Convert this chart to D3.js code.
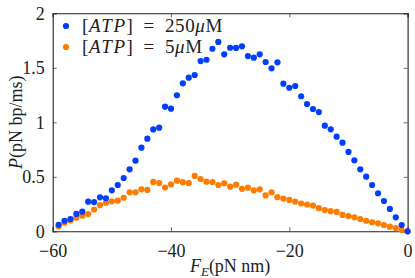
<!DOCTYPE html>
<html>
<head>
<meta charset="utf-8">
<script src="https://cdn.jsdelivr.net/npm/d3@7"></script>
<style>
  body { margin: 0; background: #fff; }
  text { font-family: "Liberation Serif", "DejaVu Serif", serif; fill: #222; }
</style>
</head>
<body>
<svg id="chart" width="415" height="278"></svg>
<script>
// F_E values (pN nm)
var forceE = [-59,-58,-57,-56,-55,-54,-53,-52,-51,-50,-49,-48,-47,-46,-45,-44,-43,-42,-41,-40,
              -39,-38,-37,-36,-35,-34,-33,-32,-31,-30,-29,-28,-27,-26,-25,-24,-23,-22,-21,-20,
              -19,-18,-17,-16,-15,-14,-13,-12,-11,-10,-9,-8,-7,-6,-5,-4,-3,-2,-1,0];

// P for [ATP] = 250uM
var power250 = [0.06,0.097,0.113,0.159,0.18,0.272,0.268,0.312,0.303,0.376,0.425,0.489,0.569,0.648,0.767,0.85,0.935,0.951,1.143,1.125,
                1.248,1.358,1.409,1.434,1.562,1.574,1.675,1.737,1.624,1.684,1.682,1.697,1.608,1.593,1.624,1.553,1.495,1.55,1.354,1.317,
                1.333,1.239,1.168,1.122,1.094,0.969,0.936,0.868,0.813,0.728,0.651,0.569,0.501,0.425,0.349,0.278,0.205,0.128,0.058,0.0];

// P for [ATP] = 5uM
var power5 = [0.045,0.078,0.1,0.125,0.143,0.158,0.2,0.24,0.262,0.275,0.281,0.308,0.358,0.358,0.385,0.38,0.453,0.442,0.402,0.43,
              0.464,0.451,0.442,0.508,0.48,0.455,0.452,0.425,0.44,0.409,0.428,0.39,0.4,0.376,0.385,0.329,0.358,0.313,0.3,0.288,
              0.273,0.255,0.246,0.236,0.212,0.195,0.185,0.178,0.15,0.14,0.128,0.113,0.097,0.083,0.073,0.058,0.042,0.03,0.012,0.0];

var xTicks = [-60, -40, -20, 0];
var yTicks = [0, 0.5, 1, 1.5, 2];
var yTickLabels = ["0", "0.5", "1", "1.5", "2"];

var blue = "#023eff", orange = "#ff7c00";

var svg = d3.select("#chart");
var pLeft = 52.7, pRight = 407.6, pTop = 13.3, pBottom = 231.3;

var x = d3.scaleLinear().domain([-60, 0]).range([pLeft, pRight]);
var y = d3.scaleLinear().domain([0, 2]).range([pBottom, pTop]);

// axes, ticks pointing inward
var xAxis = d3.axisBottom(x).tickValues(xTicks).tickSize(-4).tickPadding(10)
    .tickFormat(function(d){ return d < 0 ? "\u2212" + Math.abs(d) : d; });
var yAxis = d3.axisLeft(y).tickValues(yTicks).tickSize(-4).tickPadding(8)
    .tickFormat(function(d, i){ return yTickLabels[i]; });

var gx = svg.append("g").attr("transform", "translate(0," + pBottom + ")").call(xAxis);
var gy = svg.append("g").attr("transform", "translate(" + pLeft + ",0)").call(yAxis);
svg.append("g").attr("transform", "translate(0," + pTop + ")")
   .call(d3.axisTop(x).tickValues(xTicks).tickSize(-4).tickFormat(""));
svg.append("g").attr("transform", "translate(" + pRight + ",0)")
   .call(d3.axisRight(y).tickValues(yTicks).tickSize(-4).tickFormat(""));

svg.selectAll(".domain").attr("stroke", "#222").attr("stroke-width", 1.1);
svg.selectAll(".tick line").attr("stroke", "#444").attr("stroke-width", 0.8);
svg.selectAll(".tick text").style("font-size", "18px").style("font-family", "Liberation Serif").attr("fill", "#222");
gx.selectAll(".tick text").attr("dy", "0.85em");

// points
var seriesList = [
  { vals: power5, color: orange },
  { vals: power250, color: blue }
];
seriesList.forEach(function(s){
  svg.append("g").selectAll("circle")
    .data(forceE)
    .enter()
    .append("circle")
    .attr("cx", function(d){ return x(d); })
    .attr("cy", function(d, i){ return y(s.vals[i]); })
    .attr("r", 3.1)
    .attr("fill", s.color);
});

// legend
var legend = [
  { color: blue, num: "250" },
  { color: orange, num: "5" }
];
legend.forEach(function(l, i){
  var ly = 26 + i * 21;
  svg.append("circle").attr("cx", 66).attr("cy", ly).attr("r", 3.1).attr("fill", l.color);
  var t = svg.append("text").attr("x", 82).attr("y", ly + 6)
    .style("font-size", "19px").style("letter-spacing", "0.6px").attr("xml:space", "preserve");
  t.append("tspan").text("[");
  t.append("tspan").style("font-style", "italic").style("letter-spacing", "1.5px").text("ATP");
  t.append("tspan").text("]\u2002=\u2002" + l.num);
  t.append("tspan").style("font-style", "italic").text("\u03bc");
  t.append("tspan").text("M");
});

// axis labels
var yl = svg.append("text")
  .attr("transform", "translate(22," + ((pTop + pBottom) / 2) + ") rotate(-90)")
  .attr("text-anchor", "middle")
  .style("font-size", "18px");
yl.append("tspan").style("font-style", "italic").text("P");
yl.append("tspan").text("(pN bp/ms)");

var xl = svg.append("text")
  .attr("x", (pLeft + pRight) / 2)
  .attr("y", 272)
  .attr("text-anchor", "middle")
  .style("font-size", "18px");
xl.append("tspan").style("font-style", "italic").text("F");
xl.append("tspan").style("font-style", "italic").style("font-size", "13px").attr("dy", 4).text("E");
xl.append("tspan").attr("dy", -4).text("(pN nm)");
</script>
</body>
</html>
